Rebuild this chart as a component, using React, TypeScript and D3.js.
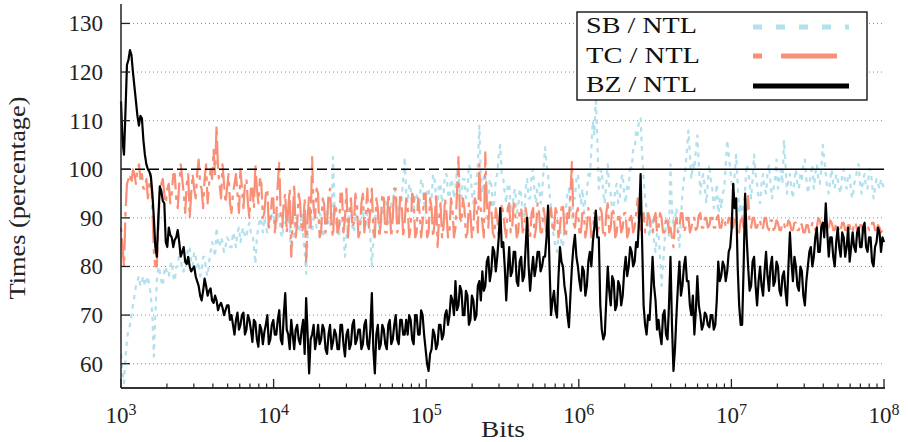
import React from 'react';
import * as d3 from 'd3';

// ---- data ----
const seriesNames = ['SB / NTL', 'TC / NTL', 'BZ / NTL'];
const yTickValues = [60, 70, 80, 90, 100, 110, 120, 130];
const xDecadeExponents = [3, 4, 5, 6, 7, 8];
const xDomainBits = [1e3, 1e8];
const yDomain = [55, 134];
const referenceLevel = 100;

// values sampled on a log-uniform grid of bit sizes from 10^3 to 10^8
const sbValues = [
  62, 58, 56, 61, 65, 67, 68, 70, 72, 74, 76, 77, 78, 76, 77, 78,
  76, 77, 78, 76, 74, 70, 61.5, 70, 77, 80, 79, 77, 76, 79, 80, 78,
  78, 80, 81, 78, 77, 80, 80, 83, 82, 79, 79, 82, 81, 84, 84, 81,
  80, 83, 82, 80, 81, 78, 79, 82, 82, 79, 78, 81, 83, 85, 84, 82,
  88, 85, 84, 86, 85, 83, 84, 86, 85.5, 84, 84, 87, 86, 84, 87, 88,
  85, 87, 88, 86, 86, 88, 89, 87, 87, 84, 80.5, 86, 88, 90, 89, 87,
  90, 88, 87, 90, 89, 91, 91, 88, 88, 91, 90, 87, 86, 89, 89, 92,
  91, 88, 82, 86, 87, 90, 90, 87, 88, 91, 86, 83, 78.5, 86, 89, 91,
  87, 90, 91, 88, 88, 91, 90, 87, 86, 89, 92, 89, 88, 90, 102.5, 92,
  89, 87, 86, 90, 90, 87, 82, 86, 89, 92, 91, 88, 87, 91, 90, 88,
  89, 91, 92, 88, 88, 92, 91, 86, 80, 85, 89, 92, 92, 88, 88, 92,
  91, 94, 93, 89, 89, 93, 92, 96, 95, 91, 90, 95, 94, 98, 102.5, 95,
  93, 97, 96, 92, 91, 95, 95, 92, 93, 98, 97, 93, 92, 96, 96, 93,
  94, 99, 98, 94, 93, 97, 97, 93, 95, 99, 99, 95, 94, 98, 97, 94,
  96, 100, 99, 95, 94, 98, 98, 94, 95, 101, 100, 95, 93, 97, 97, 101,
  109, 98, 95, 99, 99, 94, 94, 98, 97, 92, 93, 98, 99, 103, 105, 99,
  98, 95, 93, 97, 97, 92, 91, 95, 96, 91, 92, 96, 95, 90, 90, 96,
  98, 94, 94, 99, 100, 95, 93, 97, 97, 93, 95, 100, 104.5, 101, 99, 95,
  92, 88, 86, 84, 83, 87, 89, 85, 84, 88, 92, 95, 96, 92, 90, 94,
  94, 98, 99, 95, 93, 96, 91, 94, 95, 99, 98, 104, 110, 107, 115, 106,
  96, 99, 100, 95, 93, 97, 101, 96, 95, 91, 92, 96, 97, 93, 94, 98,
  99, 95, 93, 97, 96, 101, 100, 104, 104, 108, 107, 110.5, 110.5, 103, 98, 94,
  92, 88, 86, 90, 90, 85, 83, 87, 87, 82, 76, 80, 85, 89, 90, 86,
  101, 92, 88, 90, 92, 87, 84, 90, 95, 98, 100, 104, 108, 103, 98, 101,
  100, 104, 107, 101, 95, 98, 99, 96, 93, 97, 101, 98, 96, 92, 94, 97,
  90, 94, 92, 95, 96, 101, 106, 103, 100, 97, 95, 99, 103, 97, 91, 93,
  90, 93, 96, 101, 100, 97, 94, 98, 103, 99, 97, 94, 93, 97, 99, 96,
  95, 99, 101, 97, 94, 96, 98, 102, 96, 98, 100, 97, 106, 101, 95, 98,
  99, 96, 94, 98, 100, 97, 96, 99, 98, 101, 102, 98, 95, 97, 99, 101,
  96, 99, 101, 98, 97, 100, 105, 102, 99, 96, 95, 98, 100, 97, 96, 99,
  98, 96, 95, 99, 100, 97, 96, 99, 99, 95, 94, 97, 98, 100, 101, 97,
  95, 98, 99, 96, 96, 100, 100, 97, 94, 96, 98, 97, 96, 98, 97, 96,
];

const tcValues = [
  88, 84, 80, 91, 97, 98, 99, 97, 100, 99, 97, 100, 101, 98, 99, 96,
  96, 98, 94, 97, 99, 92, 83, 80, 80, 88, 95, 97, 98, 95, 93, 96,
  97, 93, 95, 99, 99, 94, 92, 97, 101, 98, 95, 91, 97, 99, 90, 95,
  99, 96, 94, 99, 102, 97, 96, 92, 98, 101, 93, 97, 100, 98, 104, 99,
  109, 100, 97, 94, 101, 97, 93, 96, 99, 93, 91, 95, 97, 99, 95, 91,
  100, 96, 92, 97, 98, 93, 90, 96, 96, 92, 101, 96, 93, 98, 97, 90,
  91, 95, 96, 88, 89, 94, 94, 87, 90, 97, 101.5, 90, 88, 93, 95, 87,
  92, 96, 82, 90, 97, 86, 89, 95, 93, 87, 88, 94, 81, 90, 95, 88,
  102.5, 92, 90, 96, 95, 86, 87, 94, 93, 87, 89, 95, 96, 88, 86, 93,
  92, 87, 88, 95, 95, 87, 90, 96, 86, 91, 94, 88, 89, 95, 93, 86,
  87, 93, 95, 87, 91, 96, 88, 92, 96, 87, 86, 94, 92, 86, 89, 95,
  94, 87, 87, 95, 92, 86, 90, 96, 96, 87, 88, 95, 93, 86, 89, 94,
  92, 86, 88, 95, 94, 86, 87, 94, 91, 86, 89, 95, 95, 86, 87, 94,
  92, 86, 89, 95, 84, 90, 93, 86, 88, 94, 91, 86, 87, 94, 92, 86,
  88, 95, 102.5, 90, 89, 94, 92, 86, 87, 93, 91, 86, 88, 94, 93, 87,
  101, 92, 89, 86, 103.5, 93, 88, 94, 92, 87, 86, 92, 90, 86, 88, 93,
  91, 88, 86, 92, 93, 87, 88, 93, 91, 86, 87, 92, 92, 87, 88, 92,
  90, 87, 86, 91, 92, 86, 88, 93, 91, 87, 87, 92, 90, 86, 88, 91,
  92, 88, 87, 92, 91, 86, 88, 92, 93, 87, 86, 91, 90, 95, 101.5, 89,
  88, 91, 92, 87, 87, 91, 91, 86, 88, 92, 90, 86, 87, 91, 91, 87,
  88, 92, 91, 86, 86, 91, 93, 87, 88, 92, 91, 86, 87, 91, 90, 87,
  88, 91, 91, 86, 87, 91, 90, 87, 88, 91, 94, 87, 87, 90, 91, 87,
  88, 91, 90, 87, 87, 90, 91, 87, 88, 91, 90, 87, 87, 90, 90, 87,
  88, 86, 84, 89, 90, 87, 88, 91, 91, 87, 88, 90, 90, 87, 88, 90,
  90, 87.5, 88, 90.5, 91, 88, 88, 90, 90, 88, 88.5, 90, 90, 88, 88, 90,
  90.5, 88, 88, 90, 90, 88, 88.5, 90, 90, 88, 88, 90, 90, 87.5, 87, 89.5,
  90, 88, 88, 91, 94.5, 89, 88, 90, 90, 88, 88, 89.5, 89.5, 87.5, 88, 90,
  90, 88, 87.5, 89.5, 89.5, 87.5, 88, 89.5, 89, 87.5, 87.5, 89, 89, 87.5, 88, 89.5,
  89, 87.5, 87.5, 89, 89, 87.5, 87.5, 89, 88.5, 87, 87, 88.5, 88.5, 87, 87.5, 89,
  89, 87.5, 88, 90, 89.5, 88, 88, 89.5, 90, 88, 88, 89.5, 89, 87.5, 87.5, 89,
  88.5, 87, 87.5, 89, 89, 87.5, 87.5, 88.5, 88.5, 87, 87, 89, 89, 87.5, 87.5, 88.5,
  88.5, 87, 87, 88.5, 88.5, 87.5, 87.5, 89, 89, 87.5, 87.5, 88.5, 88, 87, 87.5, 87,
];

const bzValues = [
  114, 106, 103, 112, 121.5, 122.5, 124.5, 123.5, 120, 117, 114, 111, 109, 111, 110.5, 106,
  103, 101, 100, 99.5, 98.5, 95, 90, 84, 82, 90, 96.5, 95.5, 93.5, 93, 85, 84,
  88, 86.5, 86, 84, 85.5, 86, 87.5, 85, 82, 83, 84, 81, 80.5, 82, 80, 79,
  79.5, 80, 78, 77, 76, 74, 73, 75, 77.5, 76, 74, 75, 75.5, 73, 72.5, 74,
  73, 71, 72, 72.5, 71.5, 70, 71, 72, 72, 69, 70, 68, 66, 69, 70.5, 67,
  68, 70, 70.5, 66, 67, 70, 69, 67, 64.5, 69, 68.5, 65, 63.5, 68, 67, 64,
  66.5, 68, 70, 64, 65, 68, 69, 66, 66, 69, 71, 65, 64, 70, 74.5, 67,
  66, 63, 69, 66, 63, 67, 68, 65, 64, 67, 69, 62, 73.5, 66, 58, 65,
  66, 68, 63, 65, 68, 64, 65, 68, 67, 63, 62, 66, 68, 63, 64.5, 67,
  66, 63, 63, 68, 68, 64, 61.5, 66, 67, 63, 64, 68, 69, 64, 65, 67,
  67, 63, 64, 68, 69, 64, 63, 67, 74.5, 63, 58, 66, 68, 63, 64, 68,
  67, 64, 63, 68, 69, 64, 65, 68, 70, 65, 64, 69, 69, 66, 66, 69,
  66, 70, 69, 65, 64, 70, 70, 66, 66, 71, 70, 66, 63, 60, 58.5, 62,
  63, 67, 66, 63, 64, 68, 68, 65, 66, 70, 71, 68, 70, 74, 73, 70,
  77, 71, 72, 76, 75, 70, 70, 75, 74, 68, 69, 74, 73, 69, 70, 76,
  77, 73, 79, 75, 76, 81, 82, 77, 79, 84, 83, 79, 82, 86, 92, 84,
  85, 80, 73, 79, 84, 78, 79, 83, 83, 77, 76, 81, 82, 77, 78, 84,
  90, 80, 75, 79, 82, 78, 80, 83, 83, 79, 80, 82, 82, 86, 92.5, 80,
  70, 73, 75, 71, 69.5, 78, 84, 81, 80, 76, 74, 70, 67.5, 74, 80, 84,
  86.5, 82, 80, 77, 75, 80, 79, 74, 76, 81, 83, 80, 85, 88, 91.5, 86,
  86, 72, 67, 65, 66, 73, 80, 75, 72, 78, 77, 71, 72, 77, 76, 72,
  74, 79, 82, 78, 80, 84, 83, 80, 81, 85, 84, 90, 99, 85, 72, 68,
  66, 70, 69, 75, 82, 76, 73, 67, 69, 66, 64, 70, 71, 66, 65, 72,
  82, 68, 58.5, 63, 70, 76, 81, 74, 76, 80, 82, 77, 77, 72, 70, 74,
  66, 71, 78, 72, 70, 67, 68, 70.5, 70, 68, 67.5, 70, 70, 67, 68, 73,
  81, 77, 78, 81, 80, 77, 79, 83, 84, 88, 97, 92, 94, 80, 72, 68,
  68, 80, 95, 86, 80, 75, 76, 81, 82, 76, 72, 77, 80, 76, 74, 79,
  83, 78, 75, 80, 82, 76, 77, 81, 80, 75, 74, 78, 79, 75, 72, 80,
  87, 81, 77, 82, 80, 76, 75, 80, 79, 74, 72, 77, 80, 83, 84, 80,
  82, 86, 88, 83, 83, 88, 89, 86, 93, 87, 82, 86, 86, 82, 80, 85,
  88, 84, 82, 87, 86, 82, 84, 88, 81, 84, 87, 84, 83, 87, 88, 84,
  84, 88, 89, 84, 83, 86, 86, 81, 80, 84, 85, 88, 87, 83, 86, 85,
];

const seriesColors = ['#b2e0ec', '#f98f76', '#000000'];

const W = 908;
const H = 442;
const PLOT_LEFT = 121;
const PLOT_RIGHT = 884;
const PLOT_TOP = 4;
const PLOT_BOTTOM = 388;
const FONT = '"Liberation Serif", "Times New Roman", serif';

export default function App() {
  const x = d3.scaleLog().domain(xDomainBits).range([PLOT_LEFT, PLOT_RIGHT]);
  const y = d3.scaleLinear().domain(yDomain).range([PLOT_BOTTOM, PLOT_TOP]);

  const lo = Math.log10(xDomainBits[0]);
  const hi = Math.log10(xDomainBits[1]);
  const bitsAt = (i: number, n: number) => Math.pow(10, lo + ((hi - lo) * i) / (n - 1));

  const makePath = (vals: number[]) =>
    d3
      .line<number>()
      .x((_, i) => x(bitsAt(i, vals.length)))
      .y((d) => y(d))(vals) || '';

  const minorTicks: number[] = [];
  for (let e = xDecadeExponents[0]; e < xDecadeExponents[xDecadeExponents.length - 1]; e++) {
    for (let k = 2; k <= 9; k++) minorTicks.push(k * Math.pow(10, e));
  }

  const legendX = 577;
  const legendY = 12;
  const legendW = 290;
  const legendH = 88;
  const legendRows = [33, 63, 92];
  const legendLineY = [27, 56, 86];
  const legendTextLen = [111, 114, 111];
  const legendDash = ['9,14', '9,19,56,19', 'none'];

  const refSplit = 447;

  return (
    <svg
      width={W}
      height={H}
      viewBox={`0 0 ${W} ${H}`}
      style={{ position: 'absolute', left: 0, top: 0, background: '#fff' }}
      fontFamily={FONT}
    >
      <rect x={0} y={0} width={W} height={H} fill="#fff" />
      {/* grid */}
      {yTickValues
        .filter((v) => v !== referenceLevel)
        .map((v) => (
          <line
            key={'g' + v}
            x1={PLOT_LEFT}
            x2={PLOT_RIGHT}
            y1={y(v)}
            y2={y(v)}
            stroke="#8a8a8a"
            strokeWidth={1}
            strokeDasharray="1,3"
          />
        ))}

      {/* series */}
      <path
        d={makePath(sbValues)}
        fill="none"
        stroke={seriesColors[0]}
        strokeWidth={2.2}
        strokeDasharray="4.5,5"
        strokeLinejoin="round"
      />
      <path
        d={makePath(tcValues)}
        fill="none"
        stroke={seriesColors[1]}
        strokeWidth={2.2}
        strokeDasharray="4.5,6,28,6"
        strokeLinejoin="round"
      />

      {/* reference line at 100 */}
      <line
        x1={PLOT_LEFT}
        x2={refSplit}
        y1={y(referenceLevel)}
        y2={y(referenceLevel)}
        stroke="#000"
        strokeWidth={1.3}
        strokeDasharray="10,4"
      />
      <line
        x1={refSplit}
        x2={PLOT_RIGHT}
        y1={y(referenceLevel)}
        y2={y(referenceLevel)}
        stroke="#000"
        strokeWidth={1.3}
      />

      <path
        d={makePath(bzValues)}
        fill="none"
        stroke={seriesColors[2]}
        strokeWidth={2.2}
        strokeLinejoin="round"
      />

      {/* axes */}
      <line x1={PLOT_LEFT} x2={PLOT_LEFT} y1={PLOT_TOP} y2={PLOT_BOTTOM} stroke="#222" strokeWidth={1.5} />
      <line x1={PLOT_LEFT} x2={PLOT_RIGHT + 1} y1={PLOT_BOTTOM} y2={PLOT_BOTTOM} stroke="#333" strokeWidth={2} />
      {yTickValues.map((v) => (
        <g key={'yt' + v}>
          <line x1={PLOT_LEFT} x2={PLOT_LEFT + 9} y1={y(v)} y2={y(v)} stroke="#222" strokeWidth={1.3} />
          <text x={103} y={y(v) + 8} textAnchor="end" fontSize={23} fill="#222">
            {v}
          </text>
        </g>
      ))}
      {minorTicks.map((b, i) => (
        <line
          key={'mt' + i}
          x1={x(b)}
          x2={x(b)}
          y1={PLOT_BOTTOM}
          y2={PLOT_BOTTOM - 4.5}
          stroke="#222"
          strokeWidth={1.2}
        />
      ))}
      {xDecadeExponents.map((e) => (
        <g key={'xt' + e}>
          <line
            x1={x(Math.pow(10, e))}
            x2={x(Math.pow(10, e))}
            y1={PLOT_BOTTOM}
            y2={PLOT_BOTTOM - 9}
            stroke="#222"
            strokeWidth={1.3}
          />
          <text x={x(Math.pow(10, e))} y={423} textAnchor="middle" fontSize={23} fill="#222">
            10
            <tspan dy={-8} fontSize={16}>
              {e}
            </tspan>
          </text>
        </g>
      ))}

      {/* axis titles */}
      <text x={503} y={437} textAnchor="middle" fontSize={23} fill="#222" textLength={44} lengthAdjust="spacingAndGlyphs">
        Bits
      </text>
      <text
        transform="translate(25,198) rotate(-90)"
        textAnchor="middle"
        fontSize={24}
        fill="#222"
        textLength={203}
        lengthAdjust="spacingAndGlyphs"
      >
        Times (percentage)
      </text>

      {/* legend */}
      <rect x={legendX} y={legendY} width={legendW} height={legendH} fill="#fff" stroke="#000" strokeWidth={1.3} />
      {seriesNames.map((name, i) => (
        <g key={'lg' + i}>
          <text
            x={586}
            y={legendRows[i]}
            fontSize={24}
            fill="#111"
            textLength={legendTextLen[i]}
            lengthAdjust="spacingAndGlyphs"
          >
            {name}
          </text>
          <line
            x1={753}
            x2={849}
            y1={legendLineY[i]}
            y2={legendLineY[i]}
            stroke={seriesColors[i]}
            strokeWidth={5}
            strokeDasharray={legendDash[i] === 'none' ? undefined : legendDash[i]}
          />
        </g>
      ))}
    </svg>
  );
}
